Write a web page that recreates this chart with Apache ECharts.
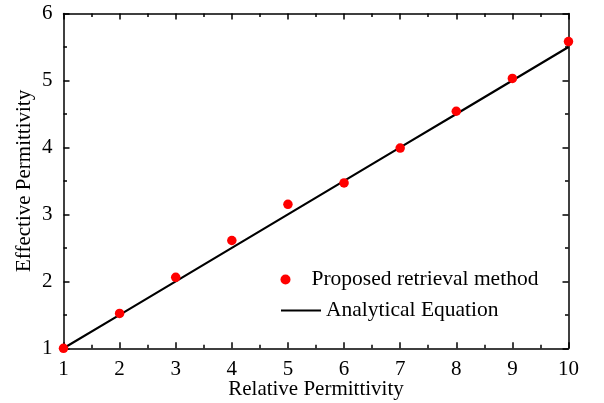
<!DOCTYPE html>
<html><head><meta charset="utf-8">
<script src="https://cdn.jsdelivr.net/npm/echarts@6/dist/echarts.min.js"></script>
<style>html,body{margin:0;padding:0;background:#fff}#c{width:604px;height:403px}</style>
</head><body><div id="c"></div>
<script>
var relPerm = [1, 2, 3, 4, 5, 6, 7, 8, 9, 10];
var retrieved = [1.0, 1.52, 2.06, 2.61, 3.15, 3.47, 3.99, 4.54, 5.03, 5.58];
var analytical = [1.0, 1.5, 2.0, 2.5, 3.0, 3.5, 4.0, 4.5, 5.0, 5.5];
var xTicks = [1, 2, 3, 4, 5, 6, 7, 8, 9, 10];
var yTicks = [1, 2, 3, 4, 5, 6];

var font = 'Liberation Serif';
var chart = echarts.init(document.getElementById('c'));
function pairs(xs, ys){ return xs.map(function(x,i){return [x, ys[i]];}); }
var axisLine = {show:true, lineStyle:{color:'#000', width:1.5}};
var tick = {show:true, inside:true, length:6, lineStyle:{color:'#000', width:1.5}};
var minor = {show:true, splitNumber:2, length:3.5, lineStyle:{color:'#000', width:1.5}};
chart.setOption({
  animation:false,
  backgroundColor:'#fff',
  grid:{left:63.5, right:35.5, top:13.5, bottom:54.7, containLabel:false, outerBoundsMode:'none'},
  xAxis:[{
    type:'value', min:xTicks[0], max:xTicks[xTicks.length-1], interval:1,
    name:'Relative Permittivity', nameLocation:'middle', nameGap:31, nameMoveOverlap:false,
    nameTextStyle:{fontFamily:font, fontSize:21, color:'#000'},
    axisLine:axisLine, axisTick:tick, minorTick:minor, splitLine:{show:false},
    axisLabel:{fontFamily:font, fontSize:21, color:'#000', margin:11}
  },{
    type:'value', position:'top', min:xTicks[0], max:xTicks[xTicks.length-1], interval:1,
    axisLine:axisLine, axisTick:tick, minorTick:minor, splitLine:{show:false},
    axisLabel:{show:false}
  }],
  yAxis:[{
    type:'value', min:yTicks[0], max:yTicks[yTicks.length-1], interval:1,
    name:'Effective Permittivity', nameLocation:'middle', nameGap:29, nameMoveOverlap:false,
    nameTextStyle:{fontFamily:font, fontSize:21, color:'#000'},
    axisLine:axisLine, axisTick:tick, minorTick:minor, splitLine:{show:false},
    axisLabel:{fontFamily:font, fontSize:21, color:'#000', margin:11}
  },{
    type:'value', position:'right', min:yTicks[0], max:yTicks[yTicks.length-1], interval:1,
    axisLine:axisLine, axisTick:tick, minorTick:minor, splitLine:{show:false},
    axisLabel:{show:false}
  }],
  legend:[{
    data:[{name:'Proposed retrieval method', icon:'circle'}], left:275.5, top:263.5, itemWidth:42, itemHeight:10,
    textStyle:{fontFamily:font, fontSize:21.5, color:'#000'}
  },{
    data:[{name:'Analytical Equation', icon:'rect'}], left:276, top:294.5, itemWidth:40, itemHeight:2.2,
    itemStyle:{color:'#000'},
    textStyle:{fontFamily:font, fontSize:21.5, color:'#000'}
  }],
  series:[{
    name:'Analytical Equation', type:'line', data:pairs(relPerm, analytical),
    showSymbol:false, symbol:'none', lineStyle:{color:'#000', width:2.2}, itemStyle:{color:'#000'}, z:2
  },{
    name:'Proposed retrieval method', type:'scatter', data:pairs(relPerm, retrieved),
    symbol:'circle', symbolSize:9.5, itemStyle:{color:'#ff0000', opacity:1}, z:3
  }]
});
</script></body></html>
